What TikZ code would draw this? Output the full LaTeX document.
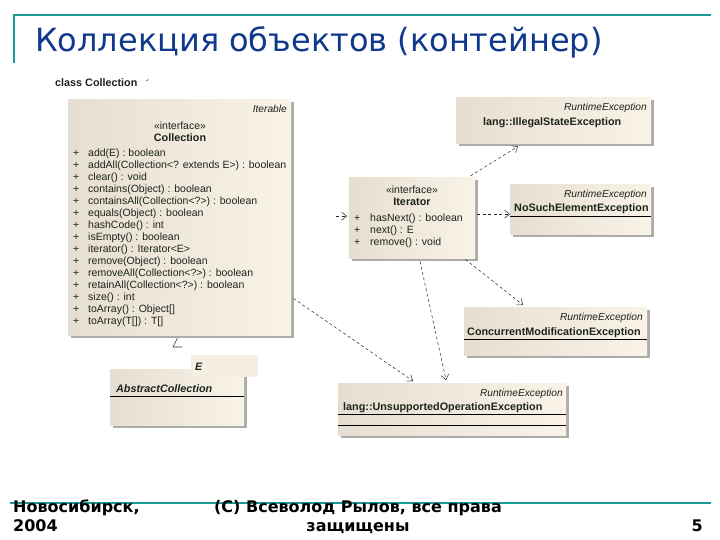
\documentclass[tikz,border=0pt]{standalone}
\usepackage{fontspec}
\setmainfont{Liberation Sans}
\newfontfamily\dejavu{DejaVu Sans}
\usetikzlibrary{shadows,arrows.meta,calc}
\definecolor{teal1}{HTML}{1A9A96}
\definecolor{titleblue}{HTML}{10388C}
\definecolor{boxL}{HTML}{E6DED0}
\definecolor{boxR}{HTML}{F9F3E8}
\definecolor{shadowc}{HTML}{ACACAC}
\definecolor{umltext}{HTML}{1C241C}
\begin{document}
\begin{tikzpicture}[x=1pt,y=-1pt,
  umlbox/.style={draw=none, left color=boxL, right color=boxR, inner sep=0, anchor=north west,
    drop shadow={shadow xshift=3pt,shadow yshift=-3pt,fill=shadowc,opacity=1}},
  flatbox/.style={draw=none, fill=boxR!80!boxL, inner sep=0, anchor=north west},
  t/.style={font=\fontsize{10.5}{12}\selectfont, inner sep=0, anchor=base west, text=umltext},
  tb/.style={t, font=\fontsize{10.8}{12}\selectfont\bfseries},
  ti/.style={t, font=\fontsize{10.2}{12}\selectfont\itshape, anchor=base east},
  tbi/.style={t, font=\fontsize{10.8}{12}\selectfont\bfseries\itshape},
  dep/.style={line width=0.5pt, black!85, dash pattern=on 3pt off 2.5pt,
    -{Straight Barb[length=5pt,width=8pt,line width=0.5pt]}},
  sep/.style={line width=0.7pt, black},
  foot/.style={font=\dejavu\bfseries\fontsize{16}{19}\selectfont, inner sep=0, text=black}
]
\useasboundingbox (0,0) rectangle (720,540);
% title
\draw[teal1, line width=2.5pt] (14,63) -- (14,15) -- (711,15);
\node[anchor=base west, font=\dejavu\fontsize{32}{36}\selectfont, text=titleblue, inner sep=0] (title) at (35,52) {Коллекция объектов (контейнер)};
% footer
\draw[teal1, line width=2.5pt] (10,503) -- (711,503);
\node[foot, anchor=base west] (f1) at (13,512) {Новосибирск,};
\node[foot, anchor=base west] (f2) at (13,531) {2004};
\node[foot, anchor=base] (f3) at (358,512) {(С) Всеволод Рылов, все права};
\node[foot, anchor=base] (f4) at (358,531) {защищены};
\node[foot, anchor=base east] (f5) at (703,531) {5};

% diagram caption
\node[tb] (cap) at (55,87) {class Collection};
\draw[line width=0.6pt] (146.5,81) -- (148,79.5);

% boxes
\node[umlbox, minimum width=223pt, minimum height=236pt] (coll) at (68,99) {};
\node[umlbox, minimum width=134pt, minimum height=56pt] (abs) at (110,369) {};
\node[flatbox, minimum width=67pt, minimum height=22pt] (ebox) at (191,355) {};
\node[umlbox, minimum width=126pt, minimum height=81pt] (iter) at (349,177) {};
\node[umlbox, minimum width=195pt, minimum height=46pt] (ise) at (456,97) {};
\node[umlbox, minimum width=141pt, minimum height=50pt] (nse) at (510,184) {};
\node[umlbox, minimum width=183pt, minimum height=48pt] (cme) at (464,307) {};
\node[umlbox, minimum width=228pt, minimum height=52pt] (uoe) at (338,383) {};

% Collection
\node[ti] at (287,113) {Iterable};
\node[t, anchor=base] at (180,130) {«interface»};
\node[tb, anchor=base] at (180,141.5) {Collection};
\foreach \m [count=\i from 0] in {add(E) : boolean, addAll(Collection<? extends E>) : boolean, clear() : void, contains(Object) : boolean, containsAll(Collection<?>) : boolean, equals(Object) : boolean, hashCode() : int, isEmpty() : boolean, iterator() : Iterator<E>, remove(Object) : boolean, removeAll(Collection<?>) : boolean, retainAll(Collection<?>) : boolean, size() : int, toArray() : Object[], toArray(T[]) : T[]}{
  \node[t] at (73,157+11.97*\i) {+};
  \node[t] at (88,157+11.97*\i) {\m};
}
% generalization triangle
\draw[line width=0.6pt, black!80] (177.5,338) -- (173,347) -- (182,347);

% E and AbstractCollection
\node[tbi] at (195,370.5) {E};
\node[tbi] at (116,392) {AbstractCollection};
\draw[sep] (abs.west |- 0,396.5) -- (abs.east |- 0,396.5);

% Iterator
\node[t, anchor=base] at (412,194) {«interface»};
\node[tb, anchor=base] at (412,205.5) {Iterator};
\node[t] at (354,221.5) {+};
\node[t] at (370,221.5) {hasNext() : boolean};
\node[t] at (354,233.5) {+};
\node[t] at (370,233.5) {next() : E};
\node[t] at (354,245.5) {+};
\node[t] at (370,245.5) {remove() : void};

% exceptions
\node[ti] at (647,110.5) {RuntimeException};
\node[tb] at (483,126) {lang::IllegalStateException};

\node[ti] at (647,197.5) {RuntimeException};
\node[tb] at (514,211.5) {NoSuchElementException};
\draw[sep] (nse.west |- 0,216.5) -- (nse.east |- 0,216.5);

\node[ti] at (643,320.5) {RuntimeException};
\node[tb] at (467,335) {ConcurrentModificationException};
\draw[sep] (cme.west |- 0,339.5) -- (cme.east |- 0,339.5);

\node[ti] at (563,396) {RuntimeException};
\node[tb] at (343,410.5) {lang::UnsupportedOperationException};
\draw[sep] (uoe.west |- 0,414.5) -- (uoe.east |- 0,414.5);
\draw[sep] (uoe.west |- 0,425) -- (uoe.east |- 0,425);

% dependencies
\draw[dep] ($(iter.north east)+(-5,-1)$) -- ($(ise.south west)+(62,3)$);
\draw[dep] ($(iter.east)+(2,-3.5)$) -- ($(nse.west)+(0,5)$);
\draw[dep] ($(iter.south east)+(-10,1)$) -- ($(cme.north west)+(59,-2)$);
\draw[dep] ($(iter.south west)+(71,3)$) -- ($(uoe.north west)+(108,-3)$);
\draw[dep] ($(coll.south east)+(2,-37)$) -- ($(uoe.north west)+(75,-2)$);
\coordinate (src) at ($(iter.west)+(-13,-1.5)$);
\draw[dep] (src) -- ($(iter.west)+(-2,-1.5)$);
\end{tikzpicture}
\end{document}
